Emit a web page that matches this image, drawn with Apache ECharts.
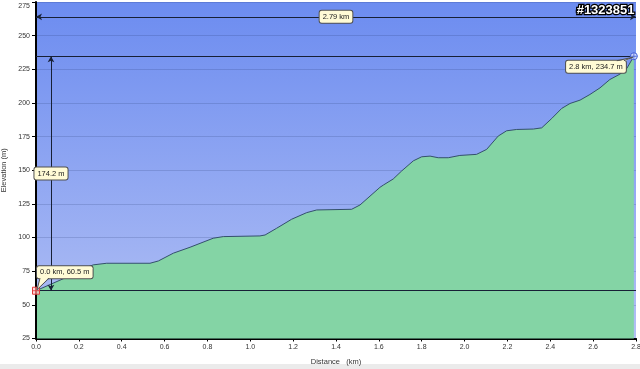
<!DOCTYPE html>
<html><head><meta charset="utf-8">
<script src="https://cdn.jsdelivr.net/npm/echarts@6/dist/echarts.min.js"></script>
<style>html,body{margin:0;padding:0;background:#fff}#c{width:640px;height:369px}</style>
</head><body><div id="c"></div>
<script>
// Elevation profile
const distKm = [0, 0.143, 0.205, 0.267, 0.33, 0.532, 0.571, 0.641, 0.719, 0.827, 0.874, 1.045, 1.069, 1.123, 1.193, 1.263, 1.31, 1.473, 1.512, 1.605, 1.621, 1.667, 1.706, 1.761, 1.8, 1.839, 1.877, 1.924, 1.978, 2.056, 2.103, 2.157, 2.196, 2.243, 2.321, 2.36, 2.407, 2.453, 2.492, 2.539, 2.585, 2.632, 2.678, 2.725, 2.757, 2.79];
const elevM  = [60.5, 70.5, 75.8, 79.7, 80.9, 80.9, 82.6, 88.4, 92.8, 99.5, 100.7, 101.2, 101.9, 106.9, 113.6, 118.5, 120.5, 121, 124.2, 137.3, 139, 143.5, 149.4, 157, 160, 160.5, 159.3, 159.3, 161, 161.8, 165.5, 175.4, 179.3, 180.3, 180.6, 181.5, 188.5, 195.9, 199.6, 202.1, 206.3, 211.2, 217.4, 221.4, 225.6, 234.7];

// Axis ranges / ticks
const xRange = [0, 2.8];
const xStep = 0.2;
const yRange = [25, 275];
const yStep = 25;

// Annotations
const refLevels = [60.5, 234.7];          // start & end elevation lines
const spanArrowElev = 264;                // height of the distance arrow
const climbArrowKm = 0.07;                // position of the climb arrow
const markerKm = [0, 2.79];
const markerElev = [60.5, 234.7];
const calloutKm = [0, 2.79, 0.07, 1.4];
const calloutElev = [60.5, 234.7, 147.6, 264];
const calloutText = ['0.0 km, 60.5 m', '2.8 km, 234.7 m', '174.2 m', '2.79 km'];
const watermark = '#1323851';

const profile = distKm.map((d, i) => [d, elevM[i]]);
const FONT = '"Liberation Sans", Arial, sans-serif';

function renderCallout(params, api) {
  const i = params.dataIndex;
  const p = api.coord([api.value(0), api.value(1)]);
  const boxFill = '#fffbd6';
  const boxStroke = '#505050';
  const base = {
    text: calloutText[i], fill: '#222', font: '7.5px ' + FONT, lineHeight: 9,
    backgroundColor: boxFill, borderColor: boxStroke, borderWidth: 1, borderRadius: 2,
    padding: [1.5, 3, 1.5, 3],
    boxShadowBlur: 2, boxShadowColor: 'rgba(0,0,0,0.35)', boxShadowOffsetX: 1, boxShadowOffsetY: 1
  };
  const children = [];
  if (i === 0) {
    const bx = p[0] + 1, by = p[1] - 24.5, bottom = by + 12;
    children.push({ type: 'text', x: bx, y: by, style: Object.assign({}, base, { align: 'left', verticalAlign: 'top' }) });
    children.push({ type: 'polygon', shape: { points: [[bx + 3, bottom - 1], [bx + 12, bottom - 1], [p[0] + 1, p[1] - 1]] }, style: { fill: boxFill } });
    children.push({ type: 'polyline', shape: { points: [[bx + 3, bottom], [p[0] + 1, p[1] - 1], [bx + 12, bottom]] }, style: { fill: null, stroke: boxStroke, lineWidth: 1 } });
  } else if (i === 1) {
    const right = p[0] - 8, top = p[1] + 4.5;
    children.push({ type: 'text', x: right, y: top, style: Object.assign({}, base, { align: 'right', verticalAlign: 'top' }) });
    children.push({ type: 'polygon', shape: { points: [[right - 9, top + 1], [right - 2, top + 1], [p[0] - 1, p[1] + 1]] }, style: { fill: boxFill } });
    children.push({ type: 'polyline', shape: { points: [[right - 9, top], [p[0] - 1, p[1] + 1], [right - 2, top]] }, style: { fill: null, stroke: boxStroke, lineWidth: 1 } });
  } else {
    children.push({ type: 'text', x: p[0], y: p[1], style: Object.assign({}, base, { align: 'center', verticalAlign: 'middle' }) });
  }
  return { type: 'group', children };
}

function renderMarker(params, api) {
  const i = params.dataIndex;
  const p = api.coord([api.value(0), api.value(1)]);
  const r = 3.5;
  if (i === 0) {
    return { type: 'group', children: [
      { type: 'rect', shape: { x: p[0] - r, y: p[1] - r, width: 2 * r, height: 2 * r }, style: { fill: 'rgba(255,200,200,0.7)', stroke: '#e03a3a', lineWidth: 1 } },
      { type: 'line', shape: { x1: p[0] - r, y1: p[1], x2: p[0] + r, y2: p[1] }, style: { stroke: '#e03a3a', lineWidth: 0.8 } },
      { type: 'line', shape: { x1: p[0], y1: p[1] - r, x2: p[0], y2: p[1] + r }, style: { stroke: '#e03a3a', lineWidth: 0.8 } }
    ] };
  }
  return { type: 'group', children: [
    { type: 'circle', shape: { cx: p[0], cy: p[1], r: r }, style: { fill: 'rgba(225,232,255,0.8)', stroke: '#4460d8', lineWidth: 1 } },
    { type: 'line', shape: { x1: p[0] - r, y1: p[1], x2: p[0] + r, y2: p[1] }, style: { stroke: '#4460d8', lineWidth: 0.8 } },
    { type: 'line', shape: { x1: p[0], y1: p[1] - r, x2: p[0], y2: p[1] + r }, style: { stroke: '#4460d8', lineWidth: 0.8 } }
  ] };
}

const chart = echarts.init(document.getElementById('c'), null, { renderer: 'canvas' });
chart.setOption({
  animation: false,
  title: {
    text: watermark, right: -2, top: -1,
    textStyle: { color: '#fff', fontFamily: FONT, fontSize: 13, fontWeight: 'bold', textBorderColor: '#000', textBorderWidth: 2.5 }
  },
  graphic: [{ type: 'rect', left: 0, bottom: 0, shape: { width: 640, height: 5 }, style: { fill: '#ebebeb' }, silent: true }],
  grid: {
    left: 36, right: 4, top: 2, bottom: 30.5,
    containLabel: false, outerBoundsMode: 'none',
    show: true, borderWidth: 0,
    backgroundColor: new echarts.graphic.LinearGradient(0, 0, 0, 1, [
      { offset: 0, color: '#6c8cf0' }, { offset: 1, color: '#b2c0f4' }
    ])
  },
  xAxis: {
    type: 'value', min: xRange[0], max: xRange[1], interval: xStep,
    name: 'Distance   (km)', nameLocation: 'middle', nameGap: 19, nameMoveOverlap: false,
    nameTextStyle: { fontFamily: FONT, fontSize: 7.5, color: '#333' },
    axisLine: { onZero: false, lineStyle: { color: '#000', width: 2 } },
    axisTick: { show: true, length: 3, lineStyle: { color: '#000' } },
    axisLabel: { fontFamily: FONT, fontSize: 7, color: '#333', margin: 5, formatter: v => v.toFixed(1) },
    splitLine: { show: false }
  },
  yAxis: {
    type: 'value', min: yRange[0], max: yRange[1], interval: yStep, z: 3,
    name: 'Elevation (m)', nameLocation: 'middle', nameGap: 28, nameRotate: 90, nameMoveOverlap: false,
    nameTextStyle: { fontFamily: FONT, fontSize: 7.5, color: '#333' },
    axisLine: { show: true, lineStyle: { color: '#000', width: 2 } },
    axisTick: { show: true, length: 4, lineStyle: { color: '#000' } },
    axisLabel: {
      fontFamily: FONT, fontSize: 7, color: '#333', margin: 6,
      formatter: v => (v === yRange[1] ? '{t|' + v + '}' : String(v)),
      rich: { t: { fontFamily: FONT, fontSize: 7, color: '#333', padding: [9, 0, 0, 0] } }
    },
    splitLine: { show: true, lineStyle: { color: 'rgba(20,40,90,0.16)', width: 1 } }
  },
  series: [
    {
      type: 'line', data: profile, showSymbol: false, symbol: 'none',
      lineStyle: { color: '#34506c', width: 1 },
      areaStyle: { color: '#84d4a5', opacity: 1 },
      markLine: {
        silent: true, animation: false,
        symbol: ['none', 'none'], symbolSize: [6, 6],
        label: { show: false },
        lineStyle: { color: '#172036', width: 1, type: 'solid' },
        data: [
          [{ coord: [xRange[0], refLevels[0]] }, { coord: [xRange[1], refLevels[0]] }],
          [{ coord: [xRange[0], refLevels[1]] }, { coord: [xRange[1], refLevels[1]] }],
          [{ coord: [xRange[0], spanArrowElev], symbol: 'arrow', symbolSize: [5, 6] }, { coord: [xRange[1], spanArrowElev], symbol: 'arrow', symbolSize: [5, 6] }],
          [{ coord: [climbArrowKm, refLevels[0]], symbol: 'arrow', symbolSize: [5, 6] }, { coord: [climbArrowKm, refLevels[1]], symbol: 'arrow', symbolSize: [5, 6] }]
        ]
      }
    },
    {
      type: 'custom', renderItem: renderMarker, clip: false, z: 5,
      data: markerKm.map((d, i) => [d, markerElev[i]])
    },
    {
      type: 'custom', renderItem: renderCallout, clip: false, z: 6,
      data: calloutKm.map((d, i) => [d, calloutElev[i]])
    }
  ]
});
</script>
</body></html>
